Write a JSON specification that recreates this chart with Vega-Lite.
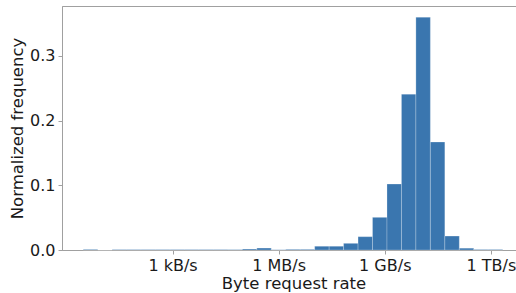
{
  "$schema": "https://vega.github.io/schema/vega-lite/v6.json",
  "width": 463,
  "height": 244,
  "autosize": {"type": "none"},
  "padding": {"left": 62, "top": 6, "right": 0, "bottom": 43},
  "background": "white",
  "config": {
    "font": "DejaVu Sans",
    "view": {"stroke": "#a0a0a0", "strokeWidth": 1},
    "axis": {
      "grid": false,
      "domainColor": "#a0a0a0",
      "tickColor": "#a0a0a0",
      "tickSize": 4,
      "labelPadding": 3,
      "labelFont": "DejaVu Sans",
      "labelFontSize": 16,
      "labelColor": "#1a1a1a",
      "titleFont": "DejaVu Sans",
      "titleFontSize": 16.5,
      "titleFontWeight": "normal",
      "titleColor": "#1a1a1a"
    }
  },
  "data": {
    "values": [
      {"lo": 0.477, "hi": 0.886, "freq": 0.0009},
      {"lo": 0.886, "hi": 1.295, "freq": 0.0},
      {"lo": 1.295, "hi": 1.703, "freq": 0.0007},
      {"lo": 1.703, "hi": 2.112, "freq": 0.0007},
      {"lo": 2.112, "hi": 2.521, "freq": 0.0007},
      {"lo": 2.521, "hi": 2.930, "freq": 0.0007},
      {"lo": 2.930, "hi": 3.339, "freq": 0.0007},
      {"lo": 3.339, "hi": 3.747, "freq": 0.0007},
      {"lo": 3.747, "hi": 4.156, "freq": 0.0007},
      {"lo": 4.156, "hi": 4.565, "freq": 0.0007},
      {"lo": 4.565, "hi": 4.974, "freq": 0.0006},
      {"lo": 4.974, "hi": 5.383, "freq": 0.0015},
      {"lo": 5.383, "hi": 5.791, "freq": 0.003},
      {"lo": 5.791, "hi": 6.200, "freq": 0.0004},
      {"lo": 6.200, "hi": 6.609, "freq": 0.001},
      {"lo": 6.609, "hi": 7.018, "freq": 0.001},
      {"lo": 7.018, "hi": 7.427, "freq": 0.0058},
      {"lo": 7.427, "hi": 7.835, "freq": 0.0058},
      {"lo": 7.835, "hi": 8.244, "freq": 0.0103},
      {"lo": 8.244, "hi": 8.653, "freq": 0.0206},
      {"lo": 8.653, "hi": 9.062, "freq": 0.0505},
      {"lo": 9.062, "hi": 9.471, "freq": 0.102},
      {"lo": 9.471, "hi": 9.879, "freq": 0.241},
      {"lo": 9.879, "hi": 10.288, "freq": 0.360},
      {"lo": 10.288, "hi": 10.697, "freq": 0.167},
      {"lo": 10.697, "hi": 11.106, "freq": 0.0216},
      {"lo": 11.106, "hi": 11.515, "freq": 0.0028},
      {"lo": 11.515, "hi": 11.923, "freq": 0.0008},
      {"lo": 11.923, "hi": 12.332, "freq": 0.0008}
    ]
  },
  "mark": {"type": "bar", "color": "#3a76af", "stroke": "#ffffff", "strokeWidth": 0.4, "strokeOpacity": 0.6},
  "encoding": {
    "x": {
      "field": "lo",
      "type": "quantitative",
      "scale": {"domain": [-0.124, 12.963], "nice": false, "zero": false},
      "axis": {
        "title": "Byte request rate",
        "values": [3, 6, 9, 12],
        "labelExpr": "datum.value == 3 ? '1 kB/s' : datum.value == 6 ? '1 MB/s' : datum.value == 9 ? '1 GB/s' : '1 TB/s'",
        "titlePadding": 2
      }
    },
    "x2": {"field": "hi"},
    "y": {
      "field": "freq",
      "type": "quantitative",
      "scale": {"domain": [0, 0.3773], "nice": false},
      "axis": {
        "title": "Normalized frequency",
        "values": [0, 0.1, 0.2, 0.3],
        "format": ".1f",
        "titlePadding": 4
      }
    },
    "y2": {"datum": 0}
  }
}
